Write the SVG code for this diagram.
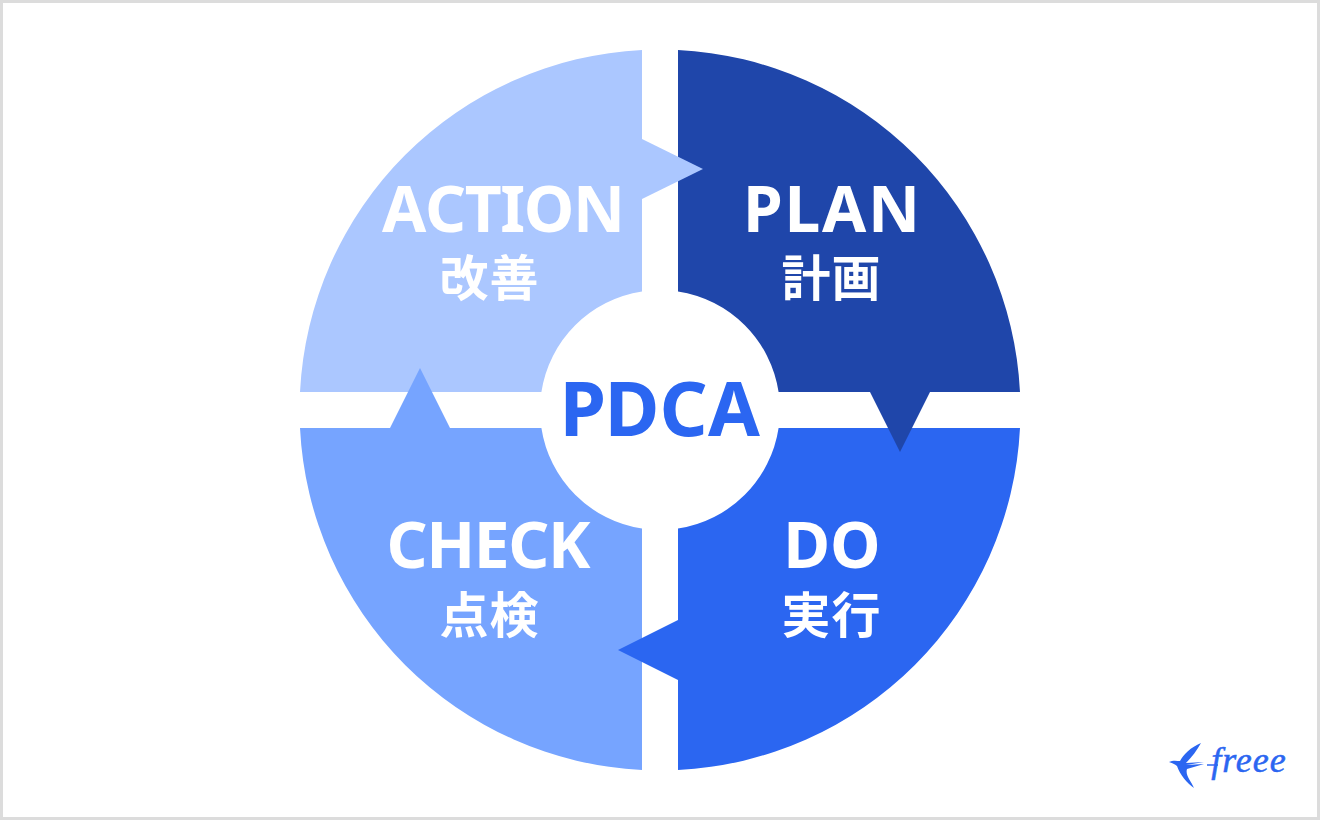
<svg xmlns="http://www.w3.org/2000/svg" width="1320" height="820" viewBox="0 0 1320 820">
<style>
.t{font-family:"Noto Sans","Noto Sans CJK JP",sans-serif;font-weight:700;text-anchor:middle;fill:#fff;font-kerning:none}
.en{font-size:64px}
.ja{font-size:49px;letter-spacing:1px}
</style>
<rect x="1.5" y="1.5" width="1317" height="817" fill="#fff" stroke="#dcdcdc" stroke-width="3"/>
<g id="action">
<path fill="#abc7ff" d="M642 50A360.450 360.450 0 0 0 300 392H541.400A120 120 0 0 1 642 291.400Z"/>
</g>
<g id="plan">
<path fill="#1f46aa" d="M678 50A360.450 360.450 0 0 1 1020 392H778.600A120 120 0 0 0 678 291.400Z"/>
</g>
<g id="do">
<path fill="#2b66f1" d="M1020 428A360.450 360.450 0 0 1 678 770V528.600A120 120 0 0 0 778.600 428Z"/>
</g>
<g id="check">
<path fill="#76a4ff" d="M642 770A360.450 360.450 0 0 1 300 428H541.400A120 120 0 0 0 642 528.600Z"/>
</g>
<g id="connectors">
<path fill="#abc7ff" d="M642 139L703 169L642 199Z"/>
<path fill="#1f46aa" d="M870 392L900 452L930 392Z"/>
<path fill="#2b66f1" d="M678 620L618 650L678 680Z"/>
<path fill="#76a4ff" d="M390 428L420 368L450 428Z"/>
</g>
<g id="labels">
<text class="t en" x="502.800" y="232" style="letter-spacing:-1.4px">ACTION</text>
<text class="t ja" x="489.500" y="296">改善</text>
<text class="t en" x="832.400" y="232" style="letter-spacing:1.7px">PLAN</text>
<text class="t ja" x="831.500" y="296">計画</text>
<text class="t en" x="832" y="568">DO</text>
<text class="t ja" x="831.500" y="633">実行</text>
<text class="t en" x="487.800" y="568" style="letter-spacing:-1.4px">CHECK</text>
<text class="t ja" x="489.500" y="633">点検</text>
<text class="t" x="559.500 604.500 659.500 708" y="436" font-size="75" style="fill:#2b66f1;text-anchor:start">PDCA</text>
</g>
<g id="logo">
<path fill="#2b66f1" d="M1169 762C1173 760 1177 761 1180 761C1183 755 1191 747 1201 743C1197 750 1192 757 1186 763L1204 762L1186 765L1204 764L1187 769C1185 775 1191 781 1194 788C1187 783 1180 775 1177 766C1175 764 1172 763 1169 762Z"/>
<path fill="none" stroke="#2b66f1" stroke-width="1.500" d="M1207 765H1218"/>
<text x="1249" y="772" font-family="Liberation Serif,serif" font-style="italic" font-size="36" letter-spacing="1" text-anchor="middle" fill="#2b66f1" stroke="#2b66f1" stroke-width="0.500">freee</text>
</g>
</svg>
